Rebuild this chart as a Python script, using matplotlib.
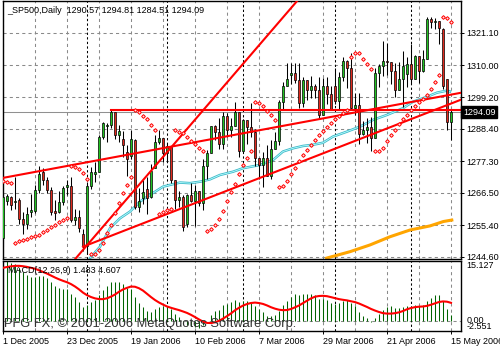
import numpy as np
import matplotlib
matplotlib.use("Agg")
import matplotlib.pyplot as plt
import matplotlib.transforms as mtransforms

plt.rcParams['font.family'] = ['Liberation Sans', 'DejaVu Sans']

# ---- daily bars, 1 Dec 2005 .. 15 May 2006 ----
opens = [1251.0, 1263.8, 1265.2, 1263.2, 1263.9, 1257.4, 1255.9, 1260.0, 1260.4, 1267.5,
         1273.7, 1271.0, 1267.5, 1260.3, 1260.1, 1263.2, 1268.6, 1268.9, 1257.2, 1258.4,
         1252.5, 1248.3, 1268.8, 1273.0, 1273.5, 1285.5, 1289.3, 1289.7, 1294.2, 1286.1,
         1285.0, 1280.5, 1279.0, 1284.5, 1261.8, 1264.9, 1267.9, 1265.0, 1274.9, 1283.9,
         1285.2, 1280.1, 1282.5, 1270.8, 1264.0, 1265.0, 1256.0, 1265.7, 1263.8, 1267.0,
         1262.9, 1275.5, 1280.0, 1289.4, 1287.2, 1283.0, 1292.7, 1287.8, 1289.4, 1294.1,
         1280.7, 1291.2, 1289.1, 1287.2, 1278.3, 1275.9, 1278.5, 1272.2, 1281.6, 1284.1,
         1297.5, 1303.0, 1306.9, 1307.3, 1305.1, 1297.2, 1305.0, 1301.7, 1302.9, 1301.6,
         1293.2, 1302.9, 1300.3, 1303.0, 1297.8, 1305.9, 1311.6, 1309.0, 1295.5, 1296.6,
         1286.6, 1288.1, 1289.1, 1285.3, 1307.3, 1309.9, 1311.5, 1311.3, 1308.1, 1301.7,
         1305.4, 1307.0, 1310.6, 1305.2, 1313.2, 1308.1, 1312.3, 1325.8, 1324.7, 1325.1,
         1322.6, 1305.3, 1290.57]
highs = [1266.5, 1266.0, 1265.5, 1272.0, 1264.9, 1260.0, 1261.5, 1266.0, 1269.2, 1275.8,
         1275.0, 1272.0, 1268.5, 1263.9, 1267.0, 1268.8, 1270.9, 1271.8, 1261.0, 1260.5,
         1254.0, 1270.2, 1275.4, 1276.9, 1286.1, 1290.8, 1290.5, 1294.9, 1294.2, 1289.5,
         1287.6, 1282.9, 1288.0, 1285.0, 1268.2, 1271.0, 1271.9, 1276.4, 1286.4, 1287.9,
         1285.2, 1283.4, 1282.5, 1270.9, 1267.0, 1265.8, 1266.0, 1270.0, 1269.0, 1267.0,
         1278.2, 1281.0, 1289.4, 1289.8, 1292.1, 1294.2, 1293.8, 1292.1, 1297.6, 1294.1,
         1291.8, 1291.2, 1297.3, 1288.2, 1278.3, 1280.3, 1282.7, 1284.4, 1287.4, 1298.1,
         1304.4, 1310.9, 1310.9, 1310.9, 1310.9, 1306.0, 1305.0, 1306.5, 1303.7, 1306.2,
         1305.6, 1306.2, 1303.0, 1309.2, 1307.6, 1312.8, 1312.0, 1314.1, 1300.7, 1300.7,
         1290.9, 1292.1, 1292.5, 1309.0, 1310.4, 1318.2, 1317.7, 1311.3, 1310.8, 1311.0,
         1315.0, 1313.0, 1317.2, 1313.7, 1313.2, 1315.1, 1326.5, 1326.7, 1326.1, 1325.2,
         1322.7, 1305.5, 1294.81]
lows = [1249.5, 1262.5, 1260.5, 1260.9, 1256.0, 1252.5, 1254.2, 1258.4, 1259.6, 1266.5,
        1269.0, 1266.5, 1259.0, 1257.2, 1259.5, 1262.5, 1265.9, 1256.5, 1255.5, 1253.0,
        1246.6, 1245.7, 1267.7, 1270.3, 1273.5, 1284.8, 1283.8, 1288.5, 1285.0, 1283.8,
        1278.6, 1272.1, 1277.9, 1260.9, 1260.0, 1262.8, 1259.4, 1264.7, 1274.9, 1283.0,
        1276.9, 1277.1, 1269.7, 1261.0, 1261.6, 1253.6, 1254.8, 1263.4, 1255.0, 1261.9,
        1260.8, 1271.1, 1280.0, 1284.6, 1281.3, 1281.3, 1285.6, 1285.6, 1289.4, 1278.7,
        1280.7, 1283.2, 1285.5, 1275.7, 1271.1, 1268.4, 1272.2, 1271.1, 1281.4, 1282.7,
        1294.9, 1303.0, 1303.8, 1304.0, 1295.6, 1295.8, 1298.1, 1298.9, 1299.0, 1291.8,
        1293.2, 1296.7, 1294.9, 1296.7, 1294.7, 1304.8, 1302.4, 1294.7, 1293.2, 1283.0,
        1286.4, 1283.4, 1280.7, 1285.3, 1302.8, 1306.4, 1306.8, 1303.8, 1299.2, 1301.7,
        1295.8, 1302.8, 1303.5, 1305.2, 1303.9, 1307.9, 1312.3, 1322.9, 1322.5, 1317.4,
        1302.0, 1288.0, 1284.51]
closes = [1265.1, 1265.3, 1262.2, 1263.7, 1257.4, 1255.8, 1259.4, 1260.7, 1267.5, 1273.0,
          1270.9, 1267.5, 1260.0, 1259.7, 1263.3, 1268.2, 1269.3, 1257.2, 1258.4, 1254.4,
          1248.3, 1268.8, 1273.5, 1273.5, 1285.5, 1290.2, 1289.7, 1294.2, 1286.1, 1287.6,
          1282.9, 1277.9, 1285.0, 1261.5, 1263.8, 1266.9, 1264.7, 1273.8, 1283.7, 1285.2,
          1280.1, 1282.5, 1270.8, 1264.0, 1265.0, 1254.8, 1265.7, 1263.8, 1267.0, 1262.9,
          1275.5, 1280.0, 1289.4, 1287.2, 1283.0, 1292.7, 1287.8, 1289.4, 1294.1, 1280.7,
          1291.2, 1289.1, 1287.2, 1278.3, 1275.9, 1278.5, 1272.2, 1281.4, 1284.1, 1297.5,
          1303.0, 1305.3, 1307.3, 1305.1, 1297.2, 1305.0, 1301.7, 1303.0, 1301.6, 1293.2,
          1302.9, 1300.3, 1294.9, 1297.8, 1305.9, 1311.6, 1309.0, 1295.5, 1296.6, 1286.6,
          1288.1, 1289.1, 1285.3, 1307.3, 1309.9, 1311.5, 1311.3, 1308.1, 1301.7, 1305.4,
          1309.7, 1310.6, 1305.2, 1313.2, 1308.1, 1312.3, 1325.8, 1324.7, 1325.1, 1322.9,
          1303.0, 1290.6, 1294.09]

date_labels = ['1 Dec 2005', '23 Dec 2005', '19 Jan 2006', '10 Feb 2006',
               '7 Mar 2006', '29 Mar 2006', '21 Apr 2006', '15 May 2006']
date_bars = [0, 16, 32, 48, 64, 80, 96, 112]
month_start_bars = [21, 41, 60, 83, 102]
price_ticks = [1244.60, 1255.40, 1266.50, 1277.30, 1288.40, 1299.20, 1310.00, 1321.10]

# moving averages (bar, price)
ma50_bars = [21.75, 24.25, 26.75, 29.25, 31.75, 34.25, 36.75, 40, 41.75, 44.25, 46.75,
             49.25, 51.75, 54.25, 57.5, 60, 64.25, 67.5, 70, 72.5, 75, 77.5, 80, 82.5,
             86, 89.25, 92.5, 96, 100, 102.5, 106, 108.5, 111, 111.75]
ma50_vals = [1244.2, 1248.1, 1254.4, 1257.8, 1260.1, 1263.5, 1265.8, 1268.6, 1269.2,
             1270.0, 1269.8, 1270.3, 1271.1, 1272.6, 1273.7, 1274.9, 1276.0, 1277.7,
             1280.6, 1281.7, 1282.5, 1282.9, 1283.6, 1285.7, 1287.4, 1289.1, 1291.4,
             1293.1, 1295.4, 1297.6, 1299.3, 1300.7, 1301.4, 1301.1]
ma200_bars = [80.9, 86.75, 91.75, 96.75, 101.75, 106.75, 110.1, 112.2]
ma200_vals = [1244.2, 1246.4, 1248.7, 1251.5, 1253.8, 1255.2, 1256.7, 1257.2]

# trend lines (bar, price)
hline_start, hline_price = 27, 1294.8
steep_a, steep_b = (20, 1247.0), (62, 1313.7)
upper_a, upper_b = (0, 1271.6), (114.25, 1300.6)
lower_a, lower_b = (20, 1248.1), (114.5, 1298.3)
bid = 1294.09

# MACD seeds (state before the first visible bar)
ema12_seed, ema26_seed, signal_seed = 1248.5, 1233.7, 13.2


def ema(vals, prev, n):
    a = 2.0 / (n + 1)
    out = []
    for v in vals:
        prev = prev + a * (v - prev)
        out.append(prev)
    return np.array(out)


def psar(high, low, sar, ep, up, step=0.02, top=0.2):
    af = step
    out = []
    for i in range(len(high)):
        if i > 0:
            sar = sar + af * (ep - sar)
            prev = [low[i - 1], low[max(i - 2, 0)]] if up else [high[i - 1], high[max(i - 2, 0)]]
            sar = min([sar] + prev) if up else max([sar] + prev)
        if up and low[i] < sar:
            up, sar, ep, af = False, ep, low[i], step
        elif (not up) and high[i] > sar:
            up, sar, ep, af = True, ep, high[i], step
        else:
            if up and high[i] > ep:
                ep, af = high[i], min(af + step, top)
            if (not up) and low[i] < ep:
                ep, af = low[i], min(af + step, top)
        out.append(sar)
    return np.array(out)


o = np.array(opens); h = np.array(highs); l = np.array(lows); c = np.array(closes)
x = np.arange(len(c))
sar = psar(h, l, 1270.6, 1249.5, False)
macd = ema(c, ema12_seed, 12) - ema(c, ema26_seed, 26)
ext = np.concatenate([[signal_seed] * 8, macd])
signal = np.convolve(ext, np.ones(9) / 9, mode='valid')

fig = plt.figure(figsize=(5, 3.5), dpi=100, facecolor='white')
ax = fig.add_axes([2.5 / 500, 91 / 350, 458.5 / 500, 258 / 350])
ax2 = fig.add_axes([2.5 / 500, 19 / 350, 458.5 / 500, 70 / 350])

grid_kw = dict(color='#8a8a8a', lw=0.75, ls=(0, (3, 3)), zorder=0)
sep_kw = dict(color='black', lw=0.75, ls=(0, (2.2, 2.2)), zorder=1)
for a in (ax, ax2):
    a.set_xlim(-0.125, 114.5)
    for b in range(0, 113, 8):
        a.axvline(b, **grid_kw)
    for b in month_start_bars:
        a.axvline(b, **sep_kw)
    for s in a.spines.values():
        s.set_color('black'); s.set_linewidth(1)
for p in price_ticks:
    ax.axhline(p, **grid_kw)
ax2.axhline(0, **grid_kw)

ax.set_ylim(1243.9, 1332.0)
ax.axhline(bid, color='#909090', lw=0.75, zorder=1)

ax.plot(ma200_bars, ma200_vals, color='#ffa500', lw=2.2, zorder=2)
ax.plot(ma50_bars, ma50_vals, color='#3fb8c8', lw=1.8, zorder=2)
ax.plot(ma50_bars, ma50_vals, color='#b8ffff', lw=0.6, zorder=2)

up = c >= o
ax.vlines(x, l, h, color='black', lw=0.75, zorder=3)
body = np.maximum(np.abs(c - o), 0.15)
ax.bar(x, body, bottom=np.minimum(o, c), width=0.72,
       color=np.where(up, '#22c322', '#e02a1e'), edgecolor='black', linewidth=0.5, zorder=4)

red = '#ff0000'
ax.plot([hline_start, 114.5], [hline_price, hline_price], color=red, lw=1.5, zorder=5)
ax.axline(steep_a, steep_b, color=red, lw=1.5, zorder=5)
ax.axline(upper_a, upper_b, color=red, lw=1.5, zorder=5)
ax.plot([lower_a[0], lower_b[0]], [lower_a[1], lower_b[1]], color=red, lw=1.5, zorder=5)
ax.plot(x, sar, ls='none', marker='D', ms=1.9, mfc='#ffe0e0', mec=red, mew=0.7, zorder=6)

ax.set_xticks([])
ax.yaxis.tick_right()
ax.set_yticks(price_ticks)
ax.set_yticklabels(['%.2f' % p for p in price_ticks])
ax.tick_params(axis='y', length=2.2, width=0.7, pad=1.5, labelsize=6.5, colors='black')
trans = mtransforms.blended_transform_factory(ax.transAxes, ax.transData)
ax.text(1.004, bid, '%.2f' % bid, transform=trans, ha='left', va='center', fontsize=6.5,
        color='white', zorder=10, clip_on=False,
        bbox=dict(boxstyle='square,pad=0.2', fc='black', ec='black'))
ax.text(0.011, 0.965, '_SP500,Daily  %.2f %.2f %.2f %.2f' % (opens[-1], highs[-1], lows[-1], closes[-1]),
        transform=ax.transAxes, fontsize=6.5, ha='left', va='center')

ax2.set_ylim(-2.551, 15.127)
ax2.vlines(x, 0, macd, color='#006400', lw=0.75, zorder=2)
ax2.plot(x, signal, color=red, lw=1.5, zorder=3)
ax2.set_yticks([])
tr2 = mtransforms.blended_transform_factory(ax2.transAxes, ax2.transData)
for val, txt, va in [(15.127, '15.127', 'top'), (0, '0.00', 'center'), (-2.551, '-2.551', 'bottom')]:
    ax2.text(1.012, val, txt, transform=tr2, ha='left', va=va, fontsize=6.5, clip_on=False)
ax2.text(0.011, 0.86, 'MACD(12,26,9) 1.483 4.607', transform=ax2.transAxes,
         fontsize=6.5, ha='left', va='center')
ax2.text(0.003, 0.1, 'PFG FX, \u00a9 2001-2006 MetaQuotes Software Corp.', transform=ax2.transAxes,
         fontsize=9.3, ha='left', va='center', color='#303030', zorder=8)
ax2.set_xticks(date_bars)
ax2.set_xticklabels(date_labels, ha='left')
ax2.tick_params(axis='x', length=2.5, width=0.7, pad=1.5, labelsize=6.5)

fig.savefig('out.png', dpi=100, facecolor='white')
